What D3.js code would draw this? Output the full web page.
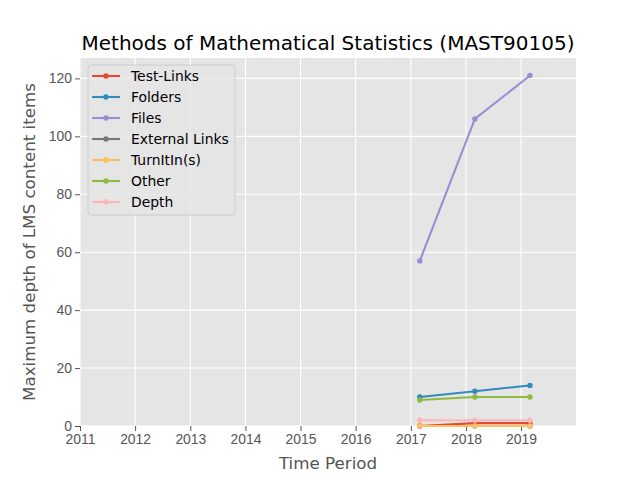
<!DOCTYPE html>
<html>
<head>
<meta charset="utf-8">
<script src="https://cdn.jsdelivr.net/npm/d3@7"></script>
<style>
body { margin: 0; background: #fff; }
svg { font-family: "DejaVu Sans", sans-serif; }
</style>
</head>
<body>
<svg id="chart" width="640" height="480"></svg>
<script>
// offering periods (roughly March of each year)
var periods = ["2017-03-01", "2018-03-01", "2019-03-01"];
var yearTicks = [2011, 2012, 2013, 2014, 2015, 2016, 2017, 2018, 2019];
var yTicks = [0, 20, 40, 60, 80, 100, 120];

var seriesNames = ["Test-Links", "Folders", "Files", "External Links", "TurnItIn(s)", "Other", "Depth"];
var seriesColors = ["#E24A33", "#348ABD", "#988ED5", "#777777", "#FBC15E", "#8EBA42", "#FFB5B8"];

var testLinks = [0, 1, 1];
var folders = [10, 12, 14];
var files = [57, 106, 121];
var externalLinks = [0, 0, 0];
var turnitins = [0, 0, 0];
var other = [9, 10, 10];
var depth = [2, 2, 2];

var allValues = [testLinks, folders, files, externalLinks, turnitins, other, depth];

var margin = {left: 80, right: 64, top: 58, bottom: 54};
var W = 640, H = 480;
var parse = d3.timeParse("%Y-%m-%d");

var svg = d3.select("#chart");

var x = d3.scaleTime()
    .domain([new Date(2011, 0, 1), new Date(2019, 11, 31)])
    .range([margin.left, W - margin.right]);
var y = d3.scaleLinear()
    .domain([0, 127.05])
    .range([H - margin.bottom, margin.top]);

// background
svg.append("rect")
    .attr("x", margin.left).attr("y", margin.top)
    .attr("width", W - margin.left - margin.right)
    .attr("height", H - margin.top - margin.bottom)
    .attr("fill", "#E5E5E5");

// grid
svg.append("g").selectAll("line").data(yearTicks).enter().append("line")
    .attr("x1", function(d) { return x(new Date(d, 0, 1)); })
    .attr("x2", function(d) { return x(new Date(d, 0, 1)); })
    .attr("y1", margin.top).attr("y2", H - margin.bottom)
    .attr("stroke", "#fff").attr("stroke-width", 1.1);
svg.append("g").selectAll("line").data(yTicks).enter().append("line")
    .attr("x1", margin.left).attr("x2", W - margin.right)
    .attr("y1", function(d) { return y(d); })
    .attr("y2", function(d) { return y(d); })
    .attr("stroke", "#fff").attr("stroke-width", 1.1);

// axes
var xAxis = d3.axisBottom(x)
    .tickValues(yearTicks.map(function(d) { return new Date(d, 0, 1); }))
    .tickFormat(d3.timeFormat("%Y"))
    .tickSize(5).tickPadding(3);
var yAxis = d3.axisLeft(y).tickValues(yTicks).tickSize(5).tickPadding(3);

var gx = svg.append("g")
    .attr("transform", "translate(0," + (H - margin.bottom) + ")")
    .call(xAxis);
var gy = svg.append("g")
    .attr("transform", "translate(" + margin.left + ",0)")
    .call(yAxis);
[gx, gy].forEach(function(g) {
  g.select(".domain").remove();
  g.selectAll(".tick line").attr("stroke", "#555555").attr("stroke-width", 1);
  g.selectAll(".tick text").attr("fill", "#555555").style("font-size", "13.9px");
});

// lines
var line = d3.line()
    .x(function(d, i) { return x(parse(periods[i])); })
    .y(function(d) { return y(d); });

allValues.forEach(function(vals, k) {
  var g = svg.append("g");
  g.append("path").datum(vals)
      .attr("d", line)
      .attr("fill", "none")
      .attr("stroke", seriesColors[k])
      .attr("stroke-width", 2.1);
  g.selectAll("circle").data(vals).enter().append("circle")
      .attr("cx", function(d, i) { return x(parse(periods[i])); })
      .attr("cy", function(d) { return y(d); })
      .attr("r", 2.7)
      .attr("fill", seriesColors[k]);
});

// title and labels
svg.append("text")
    .attr("x", (margin.left + W - margin.right) / 2).attr("y", 50)
    .attr("text-anchor", "middle")
    .style("font-size", "20px")
    .attr("fill", "#000")
    .text("Methods of Mathematical Statistics (MAST90105)");

svg.append("text")
    .attr("x", (margin.left + W - margin.right) / 2).attr("y", 469)
    .attr("text-anchor", "middle")
    .style("font-size", "16.7px")
    .attr("fill", "#555555")
    .text("Time Period");

svg.append("text")
    .attr("transform", "translate(35," + ((margin.top + H - margin.bottom) / 2) + ") rotate(-90)")
    .attr("text-anchor", "middle")
    .style("font-size", "16.7px")
    .attr("fill", "#555555")
    .text("Maximum depth of LMS content items");

// legend
var lg = svg.append("g").attr("transform", "translate(88,65)");
lg.append("rect")
    .attr("width", 147).attr("height", 150)
    .attr("rx", 3)
    .attr("fill", "#E5E5E5").attr("fill-opacity", 0.8)
    .attr("stroke", "#CCCCCC").attr("stroke-width", 1);
var items = lg.selectAll(".item").data(seriesNames).enter().append("g")
    .attr("transform", function(d, i) { return "translate(0," + (11 + i * 21) + ")"; });
items.append("line")
    .attr("x1", 4).attr("x2", 32)
    .attr("stroke", function(d, i) { return seriesColors[i]; })
    .attr("stroke-width", 2.1);
items.append("circle")
    .attr("cx", 18).attr("r", 2.7)
    .attr("fill", function(d, i) { return seriesColors[i]; });
items.append("text")
    .attr("x", 43).attr("dy", "0.35em")
    .style("font-size", "13.9px")
    .attr("fill", "#000")
    .text(function(d) { return d; });
</script>
</body>
</html>
